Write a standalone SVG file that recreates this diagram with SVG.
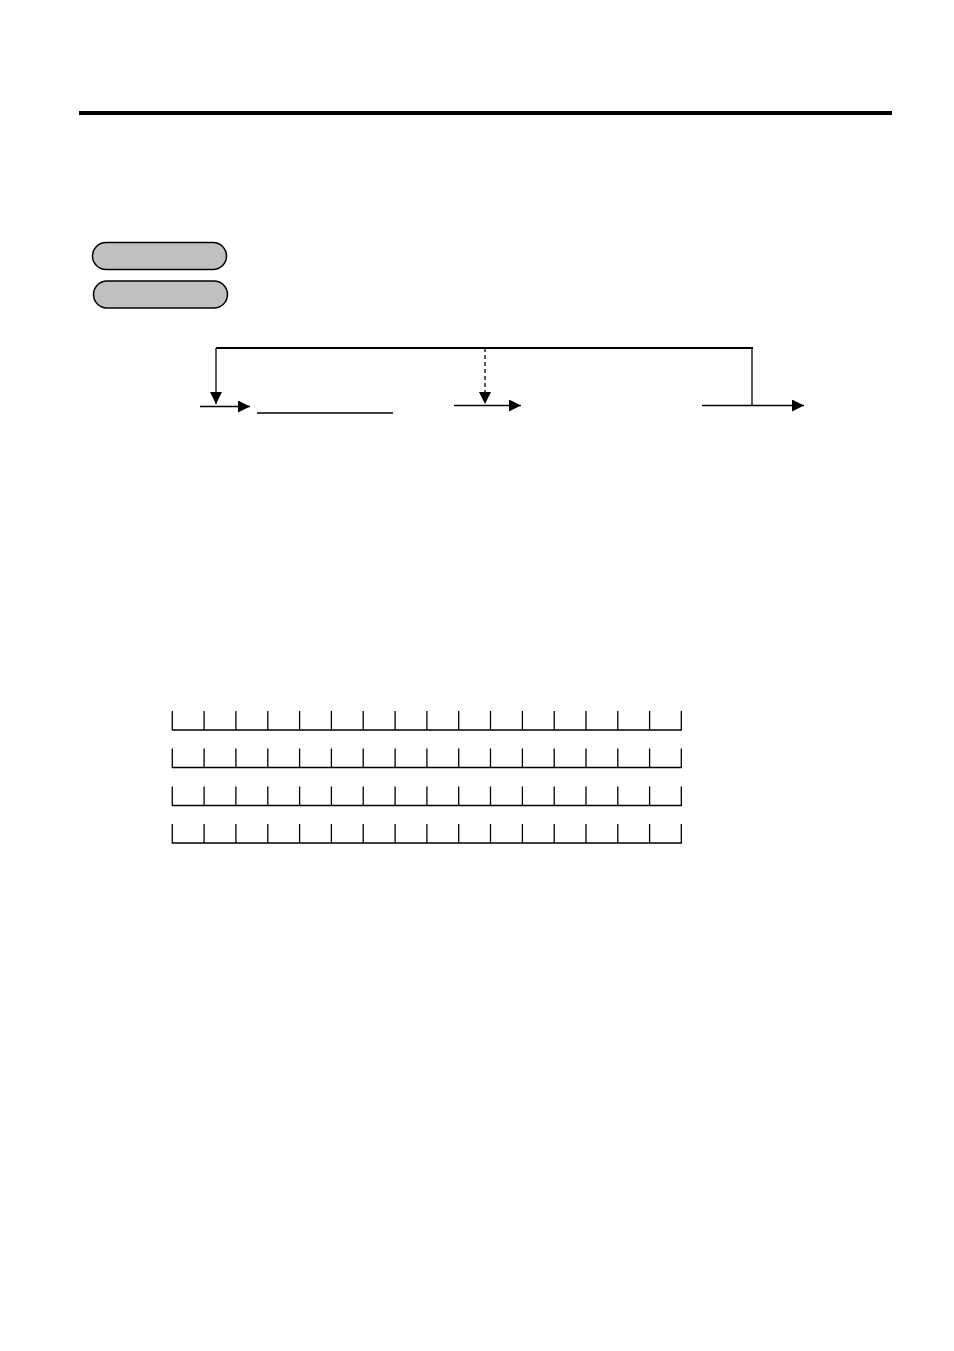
<svg xmlns="http://www.w3.org/2000/svg" width="954" height="1351" viewBox="0 0 954 1351">
<style>
.pill{fill:#c0c0c0;stroke:#000;stroke-width:1.5}
.ln{stroke:#000;stroke-width:1.3;fill:none}
.grid{stroke:#000;stroke-width:1.3;fill:none}
</style>
<defs>
<marker id="ah" markerWidth="12" markerHeight="12" viewBox="0 0 12 12" refX="12" refY="6" orient="auto" markerUnits="userSpaceOnUse">
<path d="M0,0 L12,6 L0,12 z" fill="#000"/>
</marker>
</defs>
<rect width="954" height="1351" fill="#fff"/>
<line x1="79" y1="113" x2="892" y2="113" stroke="#000" stroke-width="4"/>
<g id="pill1"><rect class="pill" x="92.5" y="242.5" width="134" height="27" rx="13.5" ry="13.5"/></g>
<g id="pill2"><rect class="pill" x="93.5" y="281" width="134" height="27" rx="13.5" ry="13.5"/></g>
<g id="connectors">
<line x1="216" y1="348" x2="753" y2="348" stroke="#000" stroke-width="2"/>
<line class="ln" x1="216" y1="348" x2="216" y2="404" marker-end="url(#ah)"/>
<line class="ln" x1="485" y1="348" x2="485" y2="404" stroke-dasharray="4,3" marker-end="url(#ah)"/>
<line class="ln" x1="752" y1="348" x2="752" y2="405"/>
<line class="ln" x1="200" y1="406.5" x2="250" y2="406.5" marker-end="url(#ah)"/>
<line class="ln" x1="454" y1="405.5" x2="521" y2="405.5" marker-end="url(#ah)"/>
<line class="ln" x1="702" y1="405.5" x2="804" y2="405.5" marker-end="url(#ah)"/>
<line class="ln" x1="257" y1="413" x2="393" y2="413"/>
</g>
<g id="grid">
<path class="grid" id="row1" d="M172.3,711 V730 H681.3 V711 M204.1,711 V730 M235.9,711 V730 M267.8,711 V730 M299.6,711 V730 M331.4,711 V730 M363.2,711 V730 M395.1,711 V730 M426.9,711 V730 M458.7,711 V730 M490.5,711 V730 M522.4,711 V730 M554.2,711 V730 M586,711 V730 M617.8,711 V730 M649.6,711 V730"/>
<use href="#row1" y="37.5"/>
<use href="#row1" y="75.5"/>
<use href="#row1" y="113"/>
</g>
</svg>
